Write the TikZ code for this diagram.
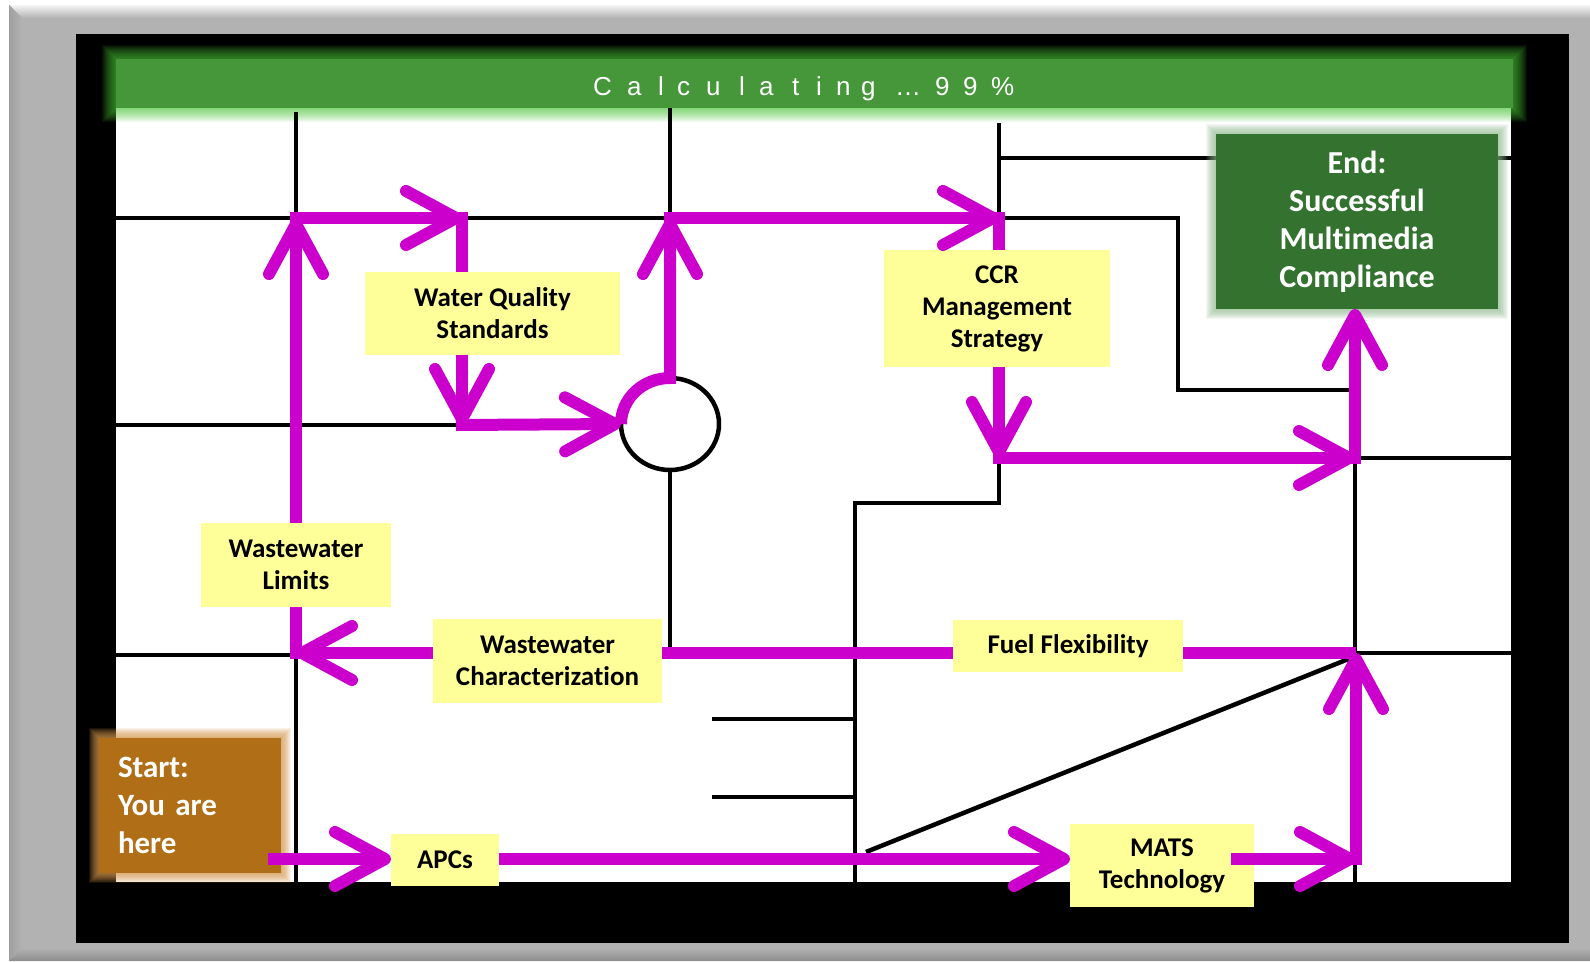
\documentclass[tikz,border=0pt]{standalone}
\usepackage{fontspec}
\setmainfont{Carlito}[Ligatures={NoCommon}]
\newfontfamily\calcfont{Liberation Sans}
\usetikzlibrary{arrows.meta,shapes.geometric}
\definecolor{framegray}{HTML}{B2B2B2}
\definecolor{bargreen}{HTML}{45973A}
\definecolor{glowgreen}{HTML}{4CC83A}
\definecolor{endgreen}{HTML}{33722F}
\definecolor{endglow}{HTML}{8FB88A}
\definecolor{startbrown}{HTML}{B06F16}
\definecolor{startglow}{HTML}{D89A50}
\definecolor{yel}{HTML}{FFFF99}
\definecolor{magc}{HTML}{CC00CC}
\tikzset{
  gridline/.style={line width=4.5pt, draw=black},
  magline/.style={draw=magc, line width=12pt},
  arrowed/.style={-{Straight Barb[length=50pt,width=54pt,round]}},
  calcchar/.style={font=\calcfont\fontsize{26}{30}\selectfont, text=white, anchor=base west, inner sep=0pt},
  ybox/.style={fill=yel, inner sep=0pt, outer sep=0pt, align=center,
    font=\bfseries\fontsize{27}{32}\selectfont},
  endsty/.style={fill=endgreen, text=white, inner sep=0pt, outer sep=0pt, align=center,
    font=\bfseries\fontsize{32}{38}\selectfont, minimum width=282pt, minimum height=175pt},
  startsty/.style={fill=startbrown, text=white, inner xsep=19pt, inner ysep=0pt, outer sep=0pt,
    align=left, text width=144pt, font=\bfseries\fontsize{31}{38}\selectfont, minimum height=135pt},
}
\begin{document}
\begin{tikzpicture}[x=1pt,y=-1pt]
\useasboundingbox (0,0) rectangle (1590,961);
% frame
\fill[white] (0,0) rectangle (1590,961);
\fill[framegray] (9,5) rectangle (1590,961);
\shade[top color=gray!8, bottom color=framegray] (9,5) -- (1590,5) -- (1590,18) -- (22,18) -- cycle;
\shade[left color=gray!75, right color=framegray] (9,5) -- (22,18) -- (22,948) -- (9,961) -- cycle;
\shade[top color=framegray, bottom color=gray!90] (9,961) -- (22,948) -- (1590,948) -- (1590,961) -- cycle;
% board
\fill[black] (76,34) rectangle (1569,943);
\fill[white] (116,108) rectangle (1511,882);
% progress bar with glow
\foreach \d in {1,...,14}
  \fill[glowgreen, opacity=0.07] ({116-\d},{59-\d}) rectangle ({1513+\d},{108+\d});
\fill[bargreen] (116,59) rectangle (1513,108);
\foreach \c/\x [count=\i] in {C/593, a/627, l/658, c/677, u/706, l/739, a/759, t/792, i/816, n/836, g/861, …/895, 9/935, 9/963}
  \node[calcchar] (calc\i) at (\x,95) {\c};
\node[calcchar] (calc15) at (991,95) {\%};
% maze lines
\draw[gridline] (296,112) -- (296,882);
\draw[gridline] (116,218) -- (1178,218) -- (1178,390) -- (1353,390);
\draw[gridline] (670,108) -- (670,218);
\draw[gridline] (116,425) -- (464,425);
\draw[gridline] (670,470) -- (670,653);
\draw[gridline] (999,123) -- (999,218);
\draw[gridline] (999,158) -- (1511,158);
\draw[gridline] (999,456) -- (999,503) -- (855,503) -- (855,882);
\draw[gridline] (712,719) -- (855,719);
\draw[gridline] (712,797) -- (855,797);
\draw[gridline] (866,852) -- (1351,658);
\draw[gridline] (1355,458) -- (1355,882);
\draw[gridline] (1355,458) -- (1511,458);
\draw[gridline] (1355,653) -- (1511,653);
\draw[gridline] (116,655) -- (296,655);
\node[ellipse, draw, line width=4.5pt, minimum width=98pt, minimum height=92pt, inner sep=0pt, outer sep=0pt] (circ) at (670,424) {};
% glows
\foreach \d in {1,...,10}
  \fill[endglow, opacity=0.1] ({1216-\d},{134-\d}) rectangle ({1498+\d},{309+\d});
\foreach \d in {1,...,10}
  \fill[startglow, opacity=0.12] ({99-\d},{738-\d}) rectangle ({281+\d},{873+\d});
% boxes
\node[ybox, minimum width=255pt, minimum height=83pt] (wqs) at (492.5,313.5) {Water Quality\\Standards};
\node[ybox, minimum width=226pt, minimum height=117pt] (ccr) at (997,308.5) {CCR\\Management\\Strategy};
\node[ybox, minimum width=190pt, minimum height=84pt] (wl) at (296,565) {Wastewater\\Limits};
\node[ybox, minimum width=229pt, minimum height=84pt] (wc) at (547.5,661) {Wastewater\\Characterization};
\node[ybox, minimum width=108pt, minimum height=52pt] (apcs) at (445,860) {APCs};
\node[ybox, minimum width=230pt, minimum height=52pt] (ff) at (1068,646) {Fuel Flexibility};
\node[ybox, minimum width=184pt, minimum height=83pt] (mats) at (1162,865.5) {MATS\\Technology};
\node[endsty] (endbox) at (1357,221.5) {End:\\Successful\\Multimedia\\Compliance};
\node[startsty] (start) at (190,805.5) {Start:\\You are\\here};
% path coordinates
\coordinate (s0) at (268,859);
\coordinate (m0) at (1231,859);
\coordinate (c1) at (1356,859);
\coordinate (c2) at (1356,653);
\coordinate (c3) at (296,653);
\coordinate (c4) at (296,218);
\coordinate (c5) at (462,218);
\coordinate (c6) at (462,425);
\coordinate (c7) at (670,218);
\coordinate (c8) at (999,218);
\coordinate (c9) at (999,458);
\coordinate (c10) at (1355,458);
% connectors
\draw[magline,arrowed] (s0) -- (apcs.west |- s0);
\draw[magline,arrowed] (apcs.east |- s0) -- (mats.west |- s0);
\draw[magline,arrowed] (m0) -- (c1);
\draw[magline,arrowed] ([yshift=-6pt]c1) -- (c2);
\draw[magline] (wc.east |- c2) -- (ff.west |- c2);
\draw[magline] (ff.east |- c2) -- (c2);
\draw[magline,arrowed] (wc.west |- c3) -- (c3);
\draw[magline] ([yshift=-6pt]c3) -- (wl.south);
\draw[magline,arrowed] (wl.north) -- (c4);
\draw[magline,arrowed] ([xshift=-6pt]c4) -- (c5);
\draw[magline] ([yshift=6pt]c5) -- (c5 |- wqs.north);
\draw[magline,arrowed] (c5 |- wqs.south) -- (c6);
\draw[magline,arrowed] ([xshift=-6pt]c6) -- (circ.west);
\draw[magline,arrowed] (circ.west) arc[start angle=180,end angle=270,x radius=49,y radius=46] -- (c7);
\draw[magline,arrowed] ([xshift=-6pt]c7) -- (c8);
\draw[magline] ([yshift=6pt]c8) -- (c8 |- ccr.north);
\draw[magline,arrowed] (c8 |- ccr.south) -- (c9);
\draw[magline,arrowed] ([xshift=-6pt]c9) -- (c10);
\draw[magline,arrowed] ([yshift=-6pt]c10) -- (c10 |- endbox.south);
\end{tikzpicture}
\end{document}
